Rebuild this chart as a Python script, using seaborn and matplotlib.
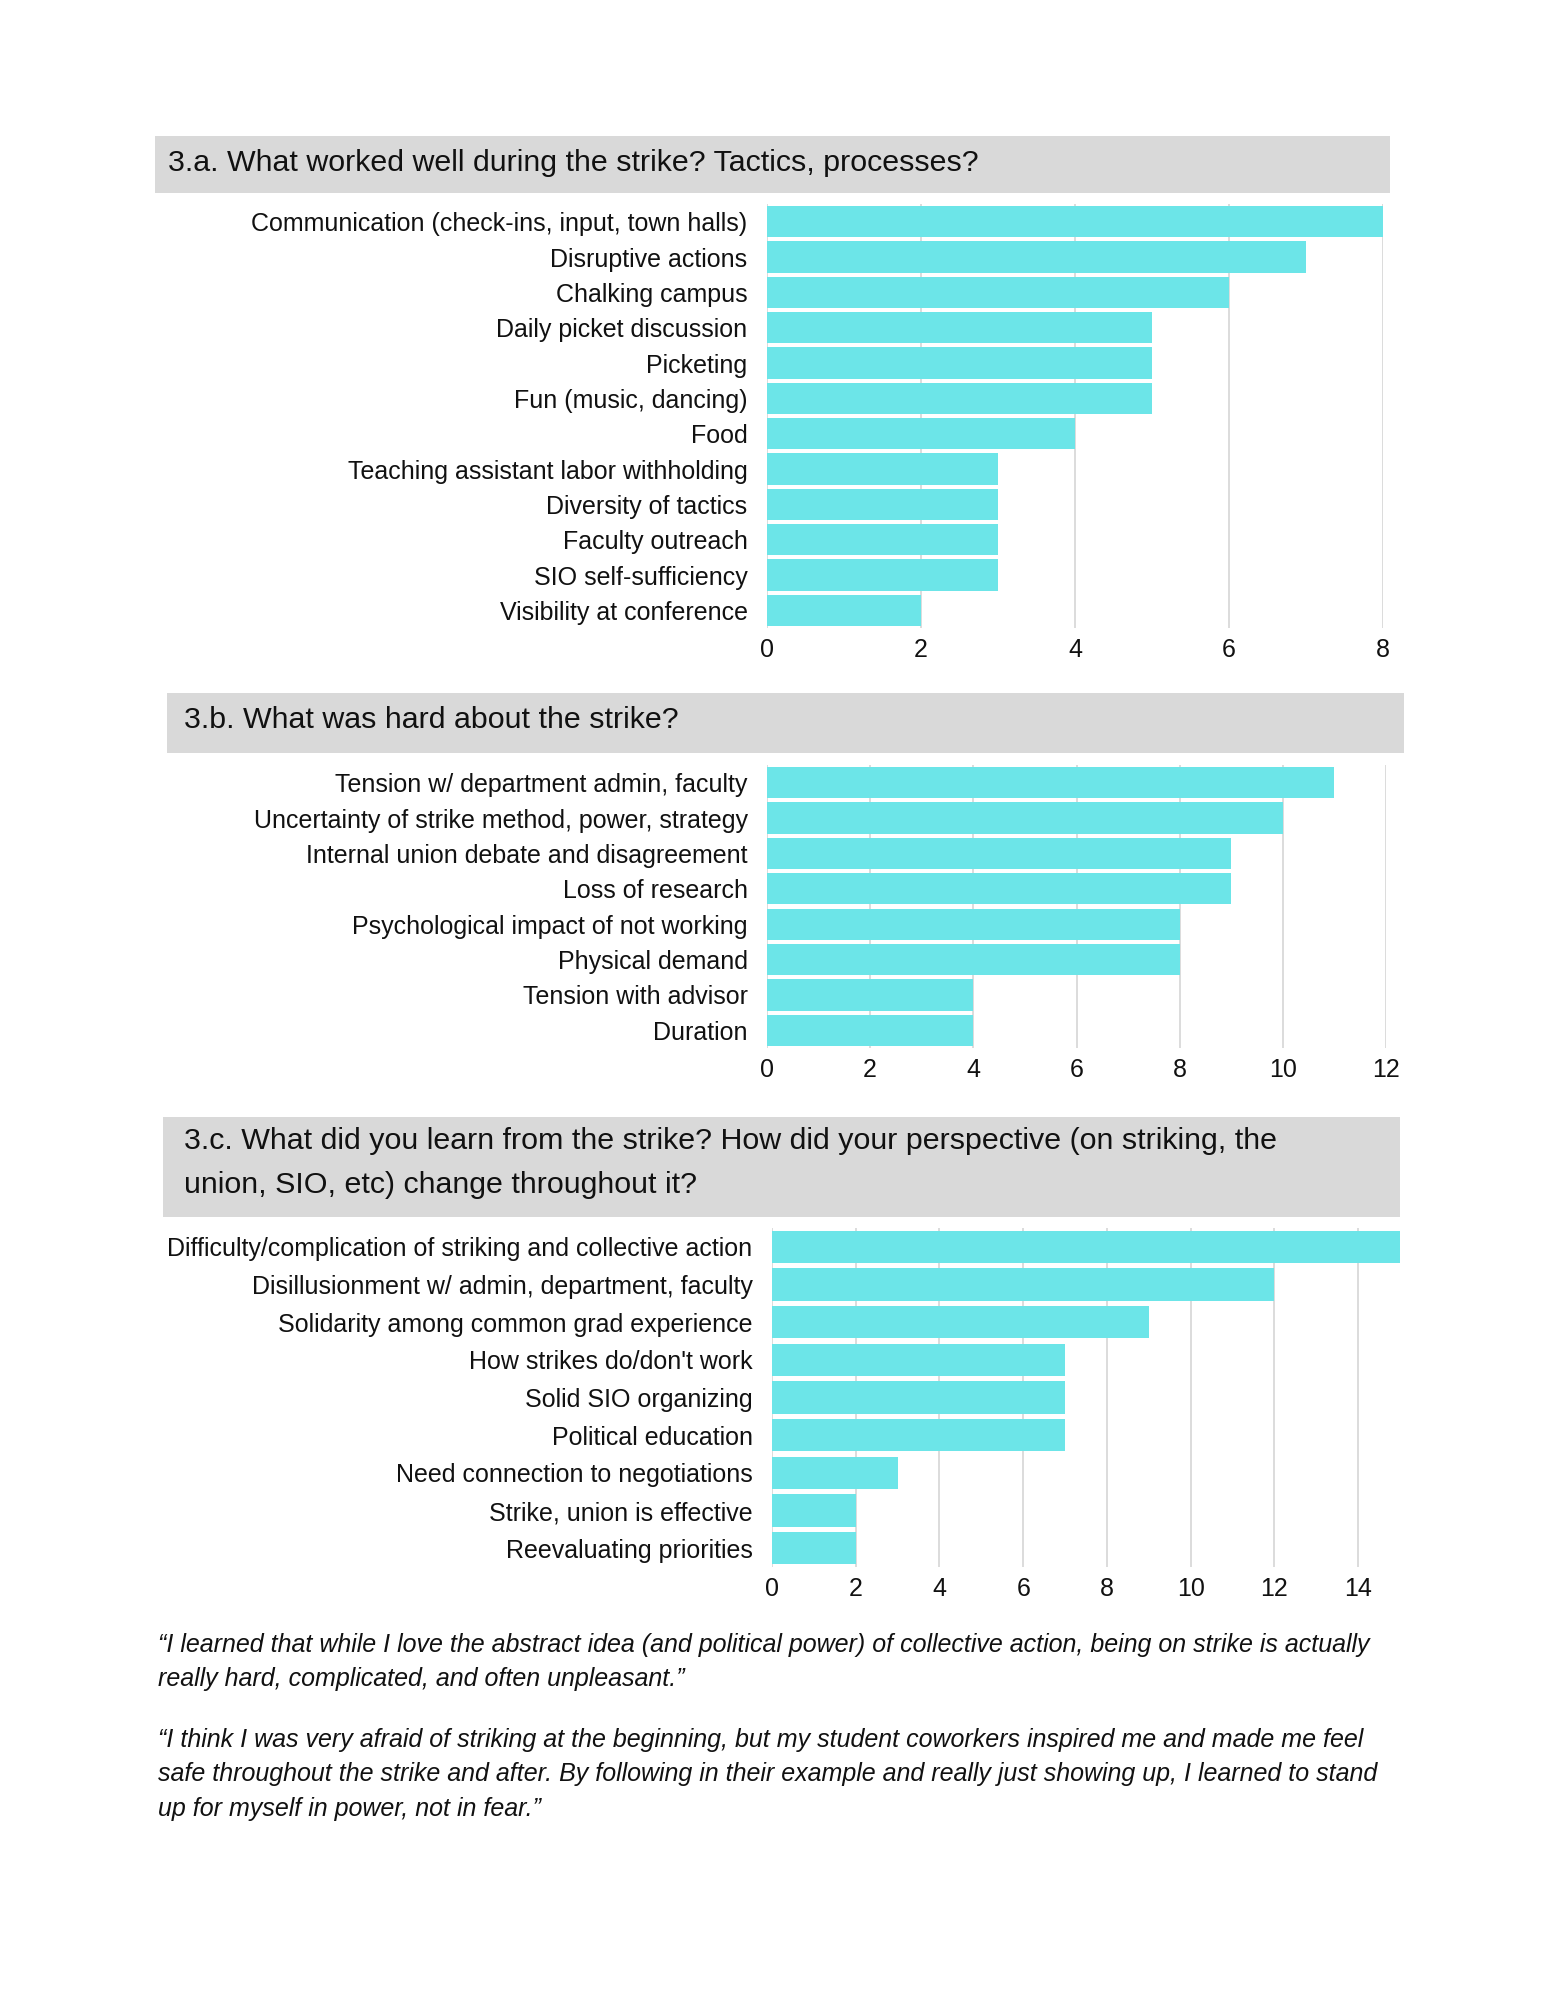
import matplotlib
matplotlib.use("Agg")
import matplotlib.pyplot as plt
import seaborn as sns
import pandas as pd
from matplotlib.patches import Rectangle

# ---- data ----
worked_labels = [
    "Communication (check-ins, input, town halls)",
    "Disruptive actions",
    "Chalking campus",
    "Daily picket discussion",
    "Picketing",
    "Fun (music, dancing)",
    "Food",
    "Teaching assistant labor withholding",
    "Diversity of tactics",
    "Faculty outreach",
    "SIO self-sufficiency",
    "Visibility at conference",
]
worked_counts = [8, 7, 6, 5, 5, 5, 4, 3, 3, 3, 3, 2]

hard_labels = [
    "Tension w/ department admin, faculty",
    "Uncertainty of strike method, power, strategy",
    "Internal union debate and disagreement",
    "Loss of research",
    "Psychological impact of not working",
    "Physical demand",
    "Tension with advisor",
    "Duration",
]
hard_counts = [11, 10, 9, 9, 8, 8, 4, 4]

learned_labels = [
    "Difficulty/complication of striking and collective action",
    "Disillusionment w/ admin, department, faculty",
    "Solidarity among common grad experience",
    "How strikes do/don't work",
    "Solid SIO organizing",
    "Political education",
    "Need connection to negotiations",
    "Strike, union is effective",
    "Reevaluating priorities",
]
learned_counts = [15, 12, 9, 7, 7, 7, 3, 2, 2]

titles = [
    "3.a. What worked well during the strike? Tactics, processes?",
    "3.b. What was hard about the strike?",
    "3.c. What did you learn from the strike? How did your perspective (on striking, the\nunion, SIO, etc) change throughout it?",
]

quote_1 = [
    "\u201cI learned that while I love the abstract idea (and political power) of collective action, being on strike is actually",
    "really hard, complicated, and often unpleasant.\u201d",
]
quote_2 = [
    "\u201cI think I was very afraid of striking at the beginning, but my student coworkers inspired me and made me feel",
    "safe throughout the strike and after. By following in their example and really just showing up, I learned to stand",
    "up for myself in power, not in fear.\u201d",
]

BAR = "#6ce5e8"
HEADER = "#d9d9d9"
GRID = "#d9d9d9"
INK = "#111111"
FONT = ["Liberation Sans", "DejaVu Sans"]

W, H = 1545, 2000

sns.set_style("white")
plt.rcParams["font.family"] = FONT

fig = plt.figure(figsize=(W / 100, H / 100), dpi=100)


def px_box(x0, y0, x1, y1):
    # pixel box (top-left origin) -> figure fraction [l, b, w, h]
    return [x0 / W, 1 - y1 / H, (x1 - x0) / W, (y1 - y0) / H]


def header(x0, y0, x1, y1, text, tx, ty):
    fig.patches.append(
        Rectangle((x0 / W, 1 - y1 / H), (x1 - x0) / W, (y1 - y0) / H,
                  transform=fig.transFigure, facecolor=HEADER, edgecolor="none")
    )
    fig.text(tx / W, 1 - ty / H, text, fontsize=21.9, color=INK,
             ha="left", va="center", linespacing=1.7)


def bar_panel(box, labels, counts, xmax, ticks, width):
    ax = fig.add_axes(px_box(*box))
    df = pd.DataFrame({"label": labels, "count": counts})
    sns.barplot(data=df, x="count", y="label", orient="h", color=BAR,
                saturation=1, width=width, linewidth=0, ax=ax, zorder=3)
    ax.set_xlim(0, xmax)
    ax.set_ylim(len(labels) - 0.5, -0.5)
    ax.set_xticks(ticks)
    ax.set_xlabel("")
    ax.set_ylabel("")
    ax.grid(axis="x", color=GRID, linewidth=1.3, zorder=0)
    ax.set_axisbelow(True)
    for s in ax.spines.values():
        s.set_visible(False)
    ax.tick_params(axis="x", length=0, pad=7, labelsize=18, labelcolor=INK)
    ax.tick_params(axis="y", length=0, pad=14, labelsize=18, labelcolor=INK)
    return ax


# 3.a
header(155, 136, 1390, 193, titles[0], 168, 163)
bar_panel((767, 204, 1383, 628), worked_labels, worked_counts, 8, [0, 2, 4, 6, 8], 0.88)

# 3.b
header(167, 693, 1404, 753, titles[1], 184, 720)
bar_panel((767, 765, 1386, 1048), hard_labels, hard_counts, 12, [0, 2, 4, 6, 8, 10, 12], 0.88)

# 3.c
header(163, 1117, 1400, 1217, titles[2], 184, 1163)
bar_panel((772, 1228, 1400, 1567), learned_labels, learned_counts, 15,
          [0, 2, 4, 6, 8, 10, 12, 14], 0.86)

# quotes
for i, line in enumerate(quote_1):
    fig.text(158 / W, 1 - (1645 + 34 * i) / H, line, fontsize=18, style="italic",
             color=INK, ha="left", va="center")
for i, line in enumerate(quote_2):
    fig.text(158 / W, 1 - (1740 + 34.5 * i) / H, line, fontsize=18, style="italic",
             color=INK, ha="left", va="center")

fig.savefig("out.png", dpi=100, facecolor="white")
